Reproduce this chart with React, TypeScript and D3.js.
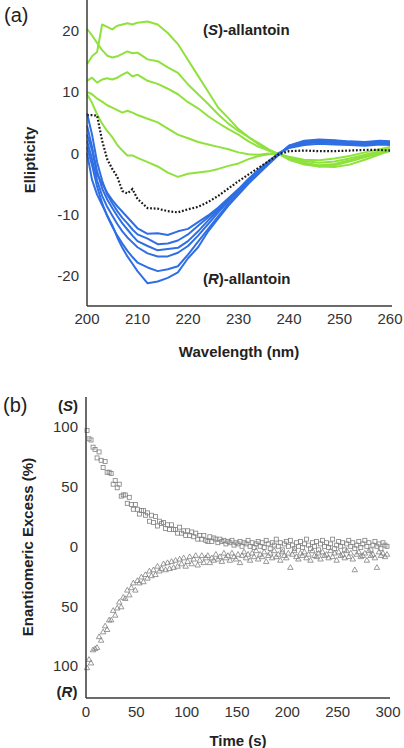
import React from 'react';
import * as d3 from 'd3';

// ---------- Panel (a): CD spectra ----------
const wavelengths = [200,201,202,203,204,205,206,207,208,209,210,212,214,216,218,220,222,224,226,228,230,232,234,236,238,240,243,246,249,252,255,258,260];

const sCurve1 = [14.5,15.8,16.5,21.0,20.6,20.2,20.8,21.0,21.2,21.0,21.3,21.5,21.0,19.6,17.8,15.2,12.6,10.0,7.4,5.7,3.9,2.6,1.4,0.4,-0.2,-0.8,-1.3,-1.6,-1.4,-0.9,-0.3,0.3,0.7];
const sCurve2 = [20.3,19.2,18.0,16.8,15.9,15.6,15.8,16.2,16.6,16.3,16.4,15.3,15.0,14.0,13.1,11.2,9.6,8.0,6.3,4.8,3.6,2.6,1.6,0.6,-0.2,-0.6,-1.1,-1.2,-0.9,-0.5,0.1,0.6,1.0];
const sCurve3 = [11.8,12.3,11.5,12.0,12.2,12.0,12.3,12.8,13.2,12.5,12.8,11.8,11.3,10.5,9.6,8.3,7.3,6.0,4.9,3.9,3.0,1.9,1.0,0.4,-0.2,-0.9,-1.6,-2.0,-1.8,-1.2,-0.5,0.2,0.6];
const sCurve4 = [10.0,9.6,8.9,8.4,7.8,7.4,7.0,6.6,6.9,6.6,6.2,5.6,5.0,4.0,3.0,2.4,1.8,1.4,1.0,0.6,0.1,-0.2,-0.3,-0.1,-0.2,-1.1,-1.9,-2.2,-2.0,-1.4,-0.7,0.0,0.4];
const sCurve5 = [9.6,8.2,6.3,4.8,3.6,2.6,1.3,0.4,-0.4,-0.4,-0.8,-1.5,-2.2,-3.2,-3.9,-3.4,-3.2,-3.0,-2.6,-2.1,-1.7,-1.0,-0.5,-0.2,-0.1,-0.8,-1.7,-2.2,-2.3,-1.9,-1.1,-0.2,0.3];

const rCurve1 = [3.0,0.5,-3.5,-5.0,-6.5,-7.7,-8.7,-9.6,-10.5,-11.4,-12.3,-13.2,-13.1,-13.4,-12.8,-12.4,-11.3,-10.2,-8.9,-7.4,-5.9,-4.2,-2.7,-1.3,0.0,0.8,1.3,1.5,1.4,1.3,1.2,1.4,1.3];
const rCurve2 = [6.5,3.0,-1.5,-4.5,-6.8,-8.2,-9.5,-10.6,-11.5,-12.5,-13.3,-14.0,-14.9,-14.8,-14.3,-13.3,-11.9,-10.5,-9.1,-7.5,-6.0,-4.4,-2.9,-1.4,-0.1,0.9,1.5,1.8,1.6,1.5,1.4,1.6,1.5];
const rCurve3 = [4.5,1.0,-3.0,-5.8,-7.6,-9.0,-10.3,-11.5,-12.5,-13.5,-14.4,-15.2,-15.9,-15.7,-15.5,-14.4,-12.8,-11.0,-9.4,-7.7,-6.1,-4.5,-3.0,-1.5,-0.1,1.0,1.6,1.9,1.8,1.6,1.5,1.7,1.6];
const rCurve4 = [2.0,-1.0,-4.5,-7.0,-8.8,-10.2,-11.6,-12.8,-13.8,-14.6,-15.4,-16.4,-16.9,-16.9,-16.3,-15.2,-13.5,-11.6,-9.7,-7.9,-6.3,-4.6,-3.1,-1.6,-0.2,1.1,1.8,2.0,1.9,1.7,1.6,1.8,1.7];
const rCurve5 = [1.0,-2.0,-5.5,-8.2,-10.3,-12.0,-13.5,-14.8,-16.0,-17.0,-17.9,-18.7,-19.3,-19.0,-18.5,-16.6,-14.5,-12.4,-10.3,-8.3,-6.6,-4.8,-3.2,-1.7,-0.2,1.2,1.9,2.1,2.0,1.8,1.7,1.9,1.8];
const rCurve6 = [0.0,-4.4,-6.8,-8.5,-10.2,-11.8,-13.8,-15.5,-16.9,-18.1,-19.3,-21.3,-21.0,-20.4,-19.5,-17.2,-15.4,-12.8,-10.7,-8.6,-6.8,-5.0,-3.4,-1.8,-0.3,1.2,2.0,2.2,2.1,1.9,1.8,2.0,1.9];

const racemic = [6.2,6.2,6.1,2.0,-1.0,-2.6,-3.9,-6.2,-6.6,-5.9,-7.5,-9.0,-9.1,-9.5,-9.7,-9.2,-8.8,-8.0,-7.0,-5.8,-4.6,-3.5,-2.4,-1.3,-0.2,0.3,0.4,0.3,0.3,0.4,0.5,0.5,0.4];

const sCurves = [sCurve1, sCurve2, sCurve3, sCurve4, sCurve5];
const rCurves = [rCurve1, rCurve2, rCurve3, rCurve4, rCurve5, rCurve6];

const wavelengthTicks = [200, 210, 220, 230, 240, 250, 260];
const ellipticityTicks = [-20, -10, 0, 10, 20];

// ---------- Panel (b): racemisation kinetics ----------
const times = [1,3,5,7,9,11,13,15,17,19,21,23,25,27,29,31,33,35,37,39,41,43,45,47,49,51,53,55,57,59,61,63,65,67,69,71,73,75,77,79,81,83,85,87,89,91,93,95,97,99,101,103,105,107,109,111,113,115,117,119,121,123,125,127,129,131,133,135,137,139,141,143,145,147,149,151,153,155,157,159,161,163,165,167,169,171,173,175,177,179,181,183,185,187,189,191,193,195,197,199,201,203,205,207,209,211,213,215,217,219,221,223,225,227,229,231,233,235,237,239,241,243,245,247,249,251,253,255,257,259,261,263,265,267,269,271,273,275,277,279,281,283,285,287,289,291,293,295,297,299];

const eeS = [97,90,89,83,81,74,79,72,66,71,62,62,61,52,55,49,52,42,43,43,36,41,35,31,35,31,27,30,30,26,28,21,26,20,25,17,21,19,20,15,18,14,18,14,14,11,16,11,13,9,13,9,12,8,11,6,9,6,9,5,4,8,4,7,6,3,6,4,5,2,4,3,5,1,3,2,4,0,3,2,5,0,3,-1,2,4,0,3,-1,5,2,-2,3,1,6,0,3,-3,2,4,0,5,1,-2,3,0,4,-1,2,6,1,-2,3,0,4,-3,2,5,0,3,-1,2,6,-2,1,4,0,3,-3,2,5,0,3,-2,1,4,-1,2,5,0,3,-3,1,4,0,2,-2,3,1,0];

const eeR = [-102,-95,-98,-87,-86,-85,-76,-79,-72,-67,-70,-62,-62,-54,-58,-52,-47,-51,-43,-44,-37,-41,-35,-31,-37,-29,-31,-26,-30,-24,-27,-21,-25,-20,-24,-17,-21,-19,-15,-20,-14,-19,-13,-18,-12,-17,-11,-15,-10,-17,-13,-9,-15,-11,-8,-16,-12,-8,-14,-10,-8,-14,-10,-12,-7,-11,-9,-13,-6,-10,-8,-12,-6,-9,-11,-7,-14,-8,-5,-10,-7,-12,-6,-9,-4,-11,-7,-9,-5,-13,-8,-6,-10,-4,-9,-7,-12,-5,-8,-10,-6,-18,-7,-4,-9,-11,-6,-8,-5,-10,-7,-12,-4,-8,-9,-6,-11,-5,-8,-7,-10,-4,-9,-6,-12,-5,-8,-7,-10,-4,-9,-6,-11,-20,-7,-5,-9,-8,-6,-12,-4,-8,-7,-10,-18,-5,-8,-6,-9,-7];

const timeTicks = [0, 50, 100, 150, 200, 250, 300];
const eeTicks = [100, 50, 0, -50, -100];

const GREEN = '#8fe23c';
const BLUE = '#2f6fe3';
const AXIS = '#3a3a3a';
const FONT = 'Liberation Sans, Arial, Helvetica, sans-serif';

export default function App() {
  // Panel (a) scales
  const xA = d3.scaleLinear().domain([200, 260]).range([87, 390]);
  const yA = d3.scaleLinear().domain([-25, 25]).range([306, 0]);
  const lineA = d3
    .line<number>()
    .x((_, i) => xA(wavelengths[i]))
    .y((d) => yA(d));

  // Panel (b) scales
  const xB = d3.scaleLinear().domain([0, 300]).range([86, 388]);
  const yB = d3.scaleLinear().domain([-127, 125]).range([698, 397]);
  const tri = d3.symbol().type(d3.symbolTriangle).size(13)() as string;

  return (
    <svg
      width={404}
      height={748}
      style={{ position: 'absolute', left: 0, top: 0, background: '#fff' }}
      fontFamily={FONT}
    >
      <rect x={0} y={0} width={404} height={748} fill="#fff" />

      {/* ===== Panel (a) ===== */}
      <text x={4} y={22} fontSize={20} fill="#222">(a)</text>

      {sCurves.map((c, i) => (
        <path key={'s' + i} d={lineA(c) || ''} fill="none" stroke={GREEN} strokeWidth={2} strokeLinejoin="round" />
      ))}
      {rCurves.map((c, i) => (
        <path key={'r' + i} d={lineA(c) || ''} fill="none" stroke={BLUE} strokeWidth={2} strokeLinejoin="round" />
      ))}
      <path d={lineA(racemic) || ''} fill="none" stroke="#1a1a1a" strokeWidth={2.2} strokeDasharray="1.8 1.8" />

      <line x1={87} x2={87} y1={0} y2={306} stroke={AXIS} strokeWidth={1.5} />
      <line x1={87} x2={392} y1={306} y2={306} stroke={AXIS} strokeWidth={1.5} />

      {ellipticityTicks.map((t) => (
        <text key={'ya' + t} x={79} y={yA(t)} fontSize={15} fill="#333" textAnchor="end" dominantBaseline="central">
          {t}
        </text>
      ))}
      {wavelengthTicks.map((t) => (
        <text key={'xa' + t} x={xA(t)} y={318} fontSize={15} fill="#333" textAnchor="middle" dominantBaseline="central">
          {t}
        </text>
      ))}
      <text x={239} y={351} fontSize={15} fontWeight="bold" fill="#222" textAnchor="middle" dominantBaseline="central">
        Wavelength (nm)
      </text>
      <text
        transform={`translate(29,160) rotate(-90)`}
        fontSize={15}
        fontWeight="bold"
        fill="#222"
        textAnchor="middle"
        dominantBaseline="central"
      >
        Ellipticity
      </text>
      <text x={203} y={29} fontSize={15} fontWeight="bold" fill="#222" dominantBaseline="central">
        (<tspan fontStyle="italic">S</tspan>)-allantoin
      </text>
      <text x={203} y={278} fontSize={15} fontWeight="bold" fill="#222" dominantBaseline="central">
        (<tspan fontStyle="italic">R</tspan>)-allantoin
      </text>

      {/* ===== Panel (b) ===== */}
      <text x={3} y={412} fontSize={20} fill="#222">(b)</text>

      {times.map((t, i) => (
        <rect
          key={'sq' + i}
          x={xB(t) - 2}
          y={yB(eeS[i]) - 2}
          width={4}
          height={4}
          fill="none"
          stroke="#808080"
          strokeWidth={0.8}
        />
      ))}
      {times.map((t, i) => (
        <path
          key={'tr' + i}
          d={tri}
          transform={`translate(${xB(t)},${yB(eeR[i])})`}
          fill="none"
          stroke="#808080"
          strokeWidth={0.8}
        />
      ))}

      <line x1={86} x2={86} y1={397} y2={698} stroke={AXIS} strokeWidth={1.5} />
      <line x1={86} x2={390} y1={698} y2={698} stroke={AXIS} strokeWidth={1.5} />

      {eeTicks.map((t) => (
        <text key={'yb' + t} x={78} y={yB(t)} fontSize={15} fill="#333" textAnchor="end" dominantBaseline="central">
          {Math.abs(t)}
        </text>
      ))}
      <text x={68} y={405} fontSize={15} fontWeight="bold" fill="#222" textAnchor="middle" dominantBaseline="central">
        (<tspan fontStyle="italic">S</tspan>)
      </text>
      <text x={67} y={691} fontSize={15} fontWeight="bold" fill="#222" textAnchor="middle" dominantBaseline="central">
        (<tspan fontStyle="italic">R</tspan>)
      </text>
      {timeTicks.map((t) => (
        <text key={'xb' + t} x={xB(t)} y={711} fontSize={15} fill="#333" textAnchor="middle" dominantBaseline="central">
          {t}
        </text>
      ))}
      <text x={238} y={740} fontSize={15} fontWeight="bold" fill="#222" textAnchor="middle" dominantBaseline="central">
        Time (s)
      </text>
      <text
        transform={`translate(27,547) rotate(-90)`}
        fontSize={15}
        fontWeight="bold"
        fill="#222"
        textAnchor="middle"
        dominantBaseline="central"
      >
        Enantiomeric Excess (%)
      </text>
    </svg>
  );
}
